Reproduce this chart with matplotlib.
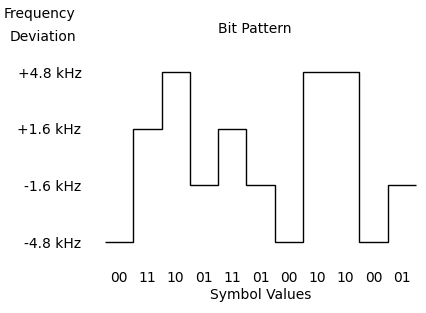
import matplotlib
matplotlib.use("Agg")
import matplotlib.pyplot as plt

symbols = ["00", "11", "10", "01", "11", "01", "00", "10", "10", "00", "01"]
level_labels = ["-4.8 kHz", "-1.6 kHz", "+1.6 kHz", "+4.8 kHz"]
symbol_level = {"00": 0, "01": 1, "11": 2, "10": 3}
levels = [symbol_level[s] for s in symbols]

W, H = 426, 313
fig = plt.figure(figsize=(W / 100, H / 100), dpi=100)
plt.rcParams['font.family'] = ['DejaVu Sans']
fs = 10

ax = fig.add_axes([105 / W, (H - 242) / H, 311 / W, 170 / H])
n = len(levels)
ax.stairs(levels, range(n + 1), color="black", linewidth=1.0, baseline=None,
          clip_on=False)
ax.set_xlim(0, n)
ax.set_ylim(0, 3)
for s in ax.spines.values():
    s.set_visible(False)

ax.set_yticks(range(len(level_labels)))
ax.set_yticklabels(level_labels, fontsize=fs)
ax.tick_params(axis="y", length=0, pad=17)

ax.set_xticks([i + 0.5 for i in range(n)])
ax.set_xticklabels(symbols, fontsize=fs)
ax.tick_params(axis="x", length=0, pad=21)

ax.set_xlabel("Symbol Values", fontsize=fs, labelpad=2)

fig.text(255 / W, 1 - 29 / H, "Bit Pattern", ha="center", va="center", fontsize=fs)
fig.text(4 / W, 1 - 14 / H, "Frequency", ha="left", va="center", fontsize=fs)
fig.text(10 / W, 1 - 37 / H, "Deviation", ha="left", va="center", fontsize=fs)

fig.savefig("out.png", dpi=100)
